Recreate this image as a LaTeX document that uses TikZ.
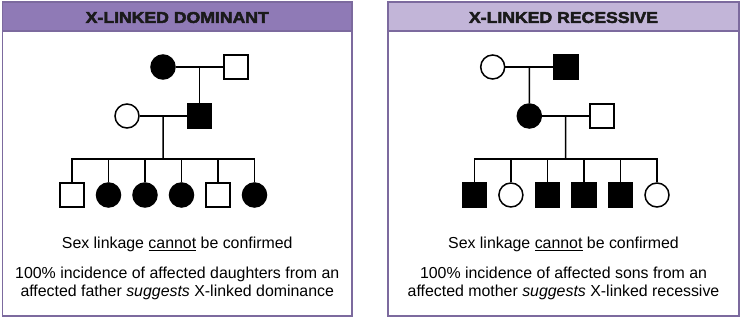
\documentclass[tikz,border=0pt]{standalone}
\usepackage{fontspec}
\setmainfont{Liberation Sans}
\newfontfamily\headfont[FakeStretch=1.13,FakeBold=3]{Liberation Sans Bold}
\usetikzlibrary{calc}
\definecolor{bordercol}{HTML}{7C6A9E}
\definecolor{headdark}{HTML}{8F7AB6}
\definecolor{headlight}{HTML}{C2B5D8}
\definecolor{headtext}{HTML}{1A1A1A}
\tikzset{
  panel/.style={draw=bordercol, line width=1.6pt, fill=white},
  headbar/.style={draw=bordercol, line width=1.6pt},
  headlabel/.style={anchor=base, text=headtext, font=\headfont\fontsize{15.6pt}{17pt}\selectfont},
  body/.style={anchor=base, font=\fontsize{15.9pt}{18pt}\selectfont},
  fem/.style={circle, draw=black, line width=1.5pt, minimum size=24pt, inner sep=0pt},
  mal/.style={rectangle, draw=black, line width=1.5pt, minimum size=24pt, inner sep=0pt},
  aff/.style={fill=black},
  unaff/.style={fill=white},
  link/.style={draw=black, line width=1.5pt},
}
\begin{document}
\begin{tikzpicture}[x=1pt,y=-1pt]
\useasboundingbox (0,0) rectangle (741,320);
% panels
\draw[panel] (2.5,2) rectangle (352,316);
\draw[headbar, fill=headdark] (2.5,2) rectangle (352,31);
\node[headlabel] (hl) at (177.25,22.9) {X-LINKED DOMINANT};
\draw[panel] (388,2) rectangle (739,316);
\draw[headbar, fill=headlight] (388,2) rectangle (739,31);
\node[headlabel] (hr) at (563.5,22.9) {X-LINKED RECESSIVE};

% ---- left pedigree ----
\node[fem, aff] (la1) at (163,67) {};
\node[mal, unaff] (lb1) at (236,67) {};
\node[fem, unaff] (la2) at (127,116) {};
\node[mal, aff] (lb2) at (199.5,116) {};
\coordinate (lm1) at ($(la1)!0.5!(lb1)$);
\coordinate (lm2) at ($(la2)!0.5!(lb2)$);
\coordinate (lsc) at (163,159);
\draw[link] (la1) -- (lb1);
\draw[link] (lm1) -- (lb2);
\draw[link] (la2) -- (lb2);
\draw[link] (lm2) -- (lsc);
\foreach \i/\x/\s/\f in {1/72/mal/unaff,2/108.5/fem/aff,3/145/fem/aff,4/181.5/fem/aff,5/218/mal/unaff,6/254.5/fem/aff}{
  \coordinate (ls\i) at (\x,159);
  \node[\s, \f] (lc\i) at (\x,195) {};
  \draw[link] (ls\i) -- (lc\i);
}
\draw[link, line cap=rect] (ls1) -- (ls6);

\node[body] (lt1) at (177.25,249) {Sex linkage \underline{cannot} be confirmed};
\node[body] (lt2) at (177.25,278) {100\% incidence of affected daughters from an};
\node[body] (lt3) at (177.25,296) {affected father \textit{suggests} X-linked dominance};

% ---- right pedigree ----
\node[fem, unaff] (ra1) at (492.7,67) {};
\node[mal, aff] (rb1) at (566,67) {};
\node[fem, aff] (ra2) at (529.3,116) {};
\node[mal, unaff] (rb2) at (602,116) {};
\coordinate (rm1) at ($(ra1)!0.5!(rb1)$);
\coordinate (rm2) at ($(ra2)!0.5!(rb2)$);
\coordinate (rsc) at (565.6,159);
\draw[link] (ra1) -- (rb1);
\draw[link] (rm1) -- (ra2);
\draw[link] (ra2) -- (rb2);
\draw[link] (rm2) -- (rsc);
\foreach \i/\x/\s/\f in {1/474.3/mal/aff,2/510.9/fem/unaff,3/547.5/mal/aff,4/584.1/mal/aff,5/620.7/mal/aff,6/657/fem/unaff}{
  \coordinate (rs\i) at (\x,159);
  \node[\s, \f] (rc\i) at (\x,195) {};
  \draw[link] (rs\i) -- (rc\i);
}
\draw[link, line cap=rect] (rs1) -- (rs6);

\node[body] (rt1) at (563.5,249) {Sex linkage \underline{cannot} be confirmed};
\node[body] (rt2) at (563.5,278) {100\% incidence of affected sons from an};
\node[body] (rt3) at (563.5,296) {affected mother \textit{suggests} X-linked recessive};
\end{tikzpicture}
\end{document}
